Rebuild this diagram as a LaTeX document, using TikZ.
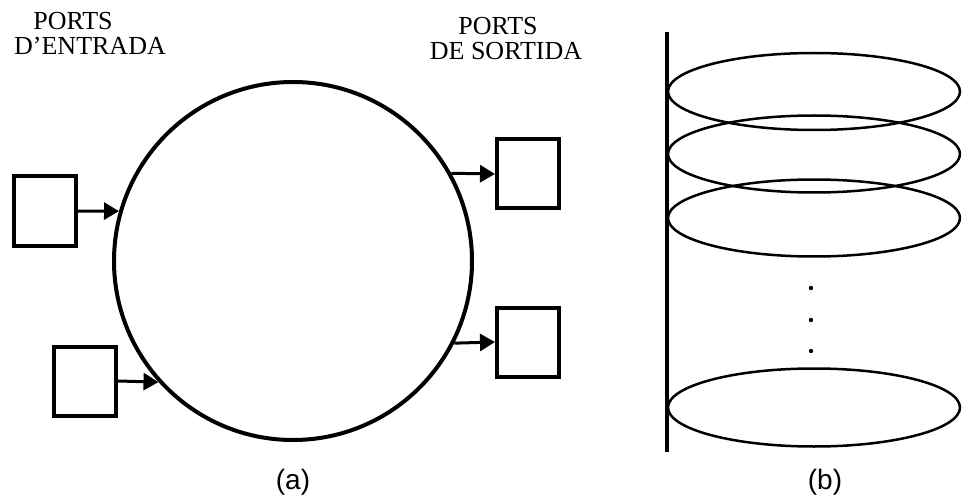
\documentclass[tikz,border=0pt]{standalone}
\usepackage{fontspec}
\setmainfont{Liberation Serif}
\newfontfamily\labelsans{Liberation Sans}
\usetikzlibrary{arrows.meta}
\begin{document}
\begin{tikzpicture}[x=1pt,y=-1pt,
  port/.style={draw, line width=4pt, inner sep=0pt, minimum width=62pt, minimum height=69pt},
  ring/.style={draw, circle, line width=4pt, inner sep=0pt, minimum size=358pt},
  feed/.style={line width=3pt, -{Triangle[length=15pt,width=17pt]}},
  heading/.style={font=\fontsize{26}{30}\selectfont, anchor=base, inner sep=0pt},
  figlabel/.style={font=\labelsans\fontsize{28}{32}\selectfont, anchor=base, inner sep=0pt},
  disk/.style={line width=2.5pt},
  axis/.style={line width=4pt}]
\useasboundingbox (0,0) rectangle (962,500);

% (a)
\node[ring] (c) at (293,261) {};
\node[port] (b1) at (45,211) {};
\node[port] (b2) at (85,381) {};
\node[port] (b3) at (528,174) {};
\node[port] (b4) at (528,342) {};
\draw[feed] (b1.east) -- (c.164);
\draw[feed] (b2.east) -- (c.222.1);
\draw[feed] (c.29.1) -- (b3.west);
\draw[feed] (c.333.1) -- (b4.west);

\node[heading] (l1) at (73,30) {PORTS};
\node[heading] (l2) at (90,55) {D’ENTRADA};
\node[heading] (r1) at (498,35) {PORTS};
\node[heading] (r2) at (506,60) {DE SORTIDA};

\node[figlabel] (fa) at (293,489) {(a)};

% (b)
\draw[axis] (667,32) -- (667,452);
\draw[disk] (814,91.5) ellipse [x radius=146, y radius=38.5];
\draw[disk] (814,154) ellipse [x radius=146, y radius=38.5];
\draw[disk] (814,218) ellipse [x radius=146, y radius=38.5];
\draw[disk] (814,407.5) ellipse [x radius=146, y radius=39];
\fill (811,288) circle (2.2pt);
\fill (811,320) circle (2.2pt);
\fill (811,351) circle (2.2pt);

\node[figlabel] (fb) at (825,489) {(b)};
\end{tikzpicture}
\end{document}
